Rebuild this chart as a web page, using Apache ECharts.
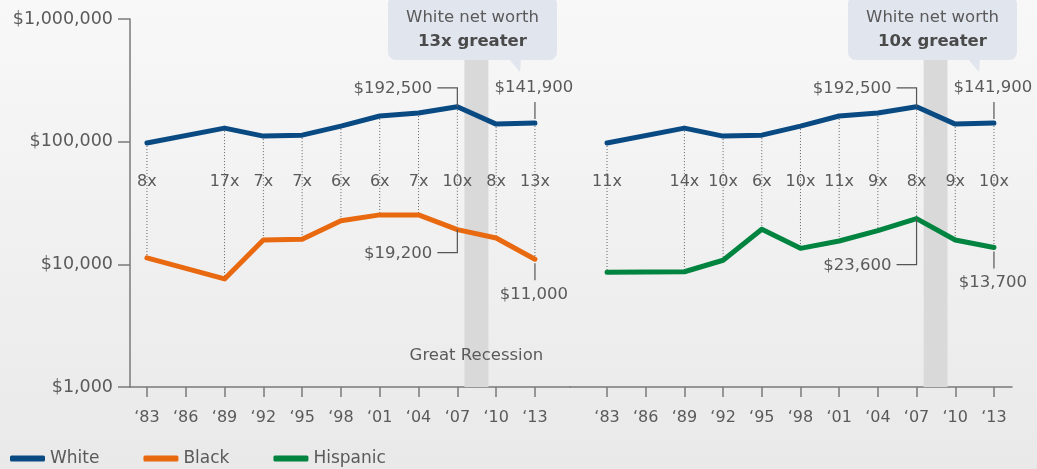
<!DOCTYPE html>
<html>
<head>
<meta charset="utf-8">
<script src="https://cdn.jsdelivr.net/npm/echarts@6/dist/echarts.min.js"></script>
<style>
  html, body { margin: 0; padding: 0; }
  #chart { width: 1037px; height: 469px; }
</style>
</head>
<body>
<div id="chart"></div>
<script>
// tick years on both panels
const YEARS = [1983, 1986, 1989, 1992, 1995, 1998, 2001, 2004, 2007, 2010, 2013];
// survey years that have data
const DATA_YEARS = [1983, 1989, 1992, 1995, 1998, 2001, 2004, 2007, 2010, 2013];
const WHITE = [97500, 129000, 111000, 113000, 134000, 162000, 171000, 192500, 139000, 141900];
const BLACK = [11300, 7600, 15800, 16000, 22700, 25300, 25300, 19200, 16400, 11000];
const HISPANIC = [8600, 8700, 10800, 19300, 13500, 15500, 18800, 23600, 15800, 13700];
const BLACK_RATIO = ['8x', '17x', '7x', '7x', '6x', '6x', '7x', '10x', '8x', '13x'];
const HISPANIC_RATIO = ['11x', '14x', '10x', '6x', '10x', '11x', '9x', '8x', '9x', '10x'];
const Y_TICKS = [1000, 10000, 100000, 1000000];
const RECESSION = [2007.55, 2009.4];
const RATIO_LABEL_AT = 47000;   // value level where the "Nx" labels sit

const FONT = 'DejaVu Sans';
const TEXT = '#5a5a5a';
const AXIS = '#7a7a7a';
const C_WHITE = '#0a4a83';
const C_BLACK = '#e8690f';
const C_HISP = '#00843f';

const chart = echarts.init(document.getElementById('chart'));

function money(v) {
  return '$' + v.toLocaleString('en-US');
}

function pairs(vals) {
  return DATA_YEARS.map((y, i) => [y, vals[i]]);
}

function xAxis(grid, min, max) {
  return {
    type: 'value', gridIndex: grid, min: min, max: max,
    splitLine: { show: false },
    axisLine: { lineStyle: { color: AXIS, width: 1.5 } },
    axisTick: { customValues: YEARS, length: 10, lineStyle: { color: AXIS, width: 1.5 } },
    axisLabel: {
      customValues: YEARS, margin: 23, color: TEXT, fontSize: 16, fontFamily: FONT,
      formatter: v => '\u2018' + String(v).slice(2)
    }
  };
}

function yAxis(grid, show) {
  return {
    type: 'log', logBase: 10, gridIndex: grid, min: 1000, max: 1000000,
    splitLine: { show: false },
    axisLine: { show: show, lineStyle: { color: AXIS, width: 1.5 } },
    axisTick: { show: show, customValues: Y_TICKS, length: 12, lineStyle: { color: AXIS, width: 1.5 } },
    axisLabel: {
      show: show, customValues: Y_TICKS, margin: 17, color: TEXT, fontSize: 17.5, fontFamily: FONT,
      formatter: v => money(v)
    }
  };
}

function line(name, grid, vals, color) {
  return {
    name: name, type: 'line', xAxisIndex: grid, yAxisIndex: grid,
    data: pairs(vals), symbol: 'none', z: 3,
    lineStyle: { color: color, width: 5, cap: 'round', join: 'round' },
    itemStyle: { color: color }
  };
}

// dotted connector + ratio text for every survey year
function ratios(grid, low, labels) {
  return {
    type: 'custom', xAxisIndex: grid, yAxisIndex: grid, z: 2, silent: true,
    data: DATA_YEARS.map((y, i) => [y, WHITE[i], low[i]]),
    encode: { x: 0, y: [1, 2] },
    markArea: {
      silent: true,
      itemStyle: { color: '#d9d9d9' },
      data: [[{ xAxis: RECESSION[0] }, { xAxis: RECESSION[1] }]]
    },
    renderItem: function (params, api) {
      const top = api.coord([api.value(0), api.value(1)]);
      const bot = api.coord([api.value(0), api.value(2)]);
      const lab = api.coord([api.value(0), RATIO_LABEL_AT]);
      return {
        type: 'group',
        children: [
          { type: 'line', shape: { x1: top[0], y1: top[1], x2: bot[0], y2: bot[1] },
            style: { stroke: '#666', lineWidth: 1, lineDash: [1, 2] } },
          { type: 'text', style: { text: labels[params.dataIndex], x: lab[0], y: lab[1],
            align: 'center', verticalAlign: 'middle', fill: TEXT, fontSize: 16, fontFamily: FONT } }
        ]
      };
    }
  };
}

chart.setOption({
  backgroundColor: new echarts.graphic.LinearGradient(0, 0, 0, 1, [
    { offset: 0, color: '#f8f8f8' }, { offset: 1, color: '#e9e9e9' }
  ]),
  animation: false,
  grid: [
    { left: 130, top: 19, width: 440, height: 368 },
    { left: 570, top: 19, width: 442, height: 368 }
  ],
  xAxis: [xAxis(0, 1981.69, 2015.71), xAxis(1, 1980.13, 2014.4)],
  yAxis: [yAxis(0, true), yAxis(1, false)],
  legend: {
    left: 5, top: 445, itemWidth: 35, itemHeight: 6, itemGap: 44, icon: 'roundRect',
    data: ['White', 'Black', 'Hispanic'],
    textStyle: { color: TEXT, fontSize: 17, fontFamily: FONT }
  },
  series: [
    ratios(0, BLACK, BLACK_RATIO),
    ratios(1, HISPANIC, HISPANIC_RATIO),
    line('White', 0, WHITE, C_WHITE),
    line('Black', 0, BLACK, C_BLACK),
    line('White', 1, WHITE, C_WHITE),
    line('Hispanic', 1, HISPANIC, C_HISP)
  ]
});

// value callouts with leader lines
const NOTES = [
  { grid: 0, year: 2007, vals: WHITE, kind: 'upLeft', dy: 19 },
  { grid: 0, year: 2013, vals: WHITE, kind: 'above' },
  { grid: 0, year: 2007, vals: BLACK, kind: 'downLeft', dy: 23 },
  { grid: 0, year: 2013, vals: BLACK, kind: 'below' },
  { grid: 1, year: 2007, vals: WHITE, kind: 'upLeft', dy: 19 },
  { grid: 1, year: 2013, vals: WHITE, kind: 'above' },
  { grid: 1, year: 2007, vals: HISPANIC, kind: 'downLeft', dy: 46 },
  { grid: 1, year: 2013, vals: HISPANIC, kind: 'below' }
];

const lineStyle = { stroke: '#555', lineWidth: 1.2, fill: null };
const textStyle = { fill: TEXT, fontSize: 16.5, fontFamily: FONT, verticalAlign: 'middle' };
const graphics = [];

NOTES.forEach(n => {
  const v = n.vals[DATA_YEARS.indexOf(n.year)];
  const p = chart.convertToPixel({ gridIndex: n.grid }, [n.year, v]);
  const label = money(v);
  if (n.kind === 'upLeft' || n.kind === 'downLeft') {
    const y = n.kind === 'upLeft' ? p[1] - n.dy : p[1] + n.dy;
    graphics.push({ type: 'polyline', z: 100, shape: { points: [[p[0], p[1]], [p[0], y], [p[0] - 20, y]] }, style: lineStyle });
    graphics.push({ type: 'text', z: 100, x: p[0] - 25, y: y + 1, style: Object.assign({ text: label, align: 'right' }, textStyle) });
  } else if (n.kind === 'above') {
    graphics.push({ type: 'line', z: 100, shape: { x1: p[0], y1: p[1] - 4, x2: p[0], y2: p[1] - 21 }, style: lineStyle });
    graphics.push({ type: 'text', z: 100, x: p[0] - 1, y: p[1] - 35, style: Object.assign({ text: label, align: 'center' }, textStyle) });
  } else {
    graphics.push({ type: 'line', z: 100, shape: { x1: p[0], y1: p[1] + 4, x2: p[0], y2: p[1] + 21 }, style: lineStyle });
    graphics.push({ type: 'text', z: 100, x: p[0] - 1, y: p[1] + 35, style: Object.assign({ text: label, align: 'center' }, textStyle) });
  }
});

// "Great Recession" caption under the left band
const mid = chart.convertToPixel({ gridIndex: 0 }, [(RECESSION[0] + RECESSION[1]) / 2, 1000]);
graphics.push({ type: 'text', z: 100, x: mid[0], y: 356,
  style: Object.assign({ text: 'Great Recession', align: 'center' }, textStyle) });

// speech-bubble boxes
function bubble(left, tipX, ratio) {
  const fill = '#e1e5ee';
  return [
    { type: 'rect', z: 100, shape: { x: left, y: -4, width: 169, height: 64, r: 8 }, style: { fill: fill } },
    { type: 'polygon', z: 100, shape: { points: [[tipX - 10, 59], [tipX + 2, 59], [tipX + 1, 72]] }, style: { fill: fill } },
    { type: 'text', z: 101, x: left + 84.5, y: 18, style: { text: 'White net worth', align: 'center', verticalAlign: 'middle',
      fill: TEXT, fontSize: 16.5, fontFamily: FONT } },
    { type: 'text', z: 101, x: left + 84.5, y: 42, style: { text: ratio + ' greater', align: 'center', verticalAlign: 'middle',
      fill: '#4a4a4a', fontSize: 16.5, fontWeight: 'bold', fontFamily: FONT } }
  ];
}
graphics.push(...bubble(388, 519, '13x'));
graphics.push(...bubble(848, 978, '10x'));

chart.setOption({ graphic: graphics });
</script>
</body>
</html>
